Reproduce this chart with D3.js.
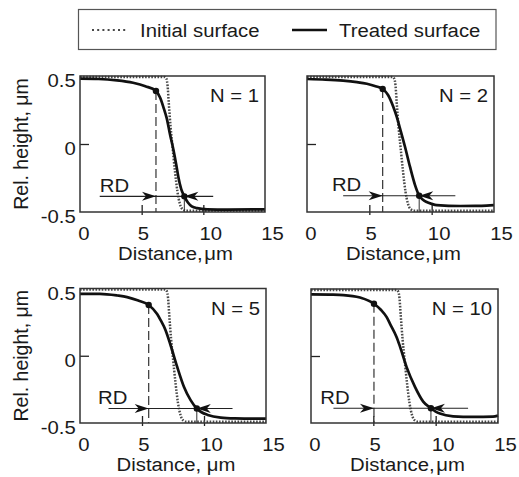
<!DOCTYPE html>
<html><head><meta charset="utf-8">
<script src="https://cdn.jsdelivr.net/npm/d3@7"></script>
<style>
body{margin:0;background:#fff}
text{font-family:"Liberation Sans",Arial,Helvetica,sans-serif;fill:#1a1a1a}
</style>
</head><body>
<svg id="c" width="519" height="477"></svg>
<script>
// ---------- data ----------
const xTicks = [0, 5, 10, 15];
const yTicks = [-0.5, 0, 0.5];
const yTickLabels = ["-0.5", "0", "0.5"];
const panelLabels = ["N = 1", "N = 2", "N = 5", "N = 10"];
const xTitles = ["Distance,\u200aμm", "Distance,\u200aμm", "Distance, μm", "Distance,\u200aμm"];
const yTitle = "Rel. height, μm";
const legendLabels = ["Initial surface", "Treated surface"];

// initial surface profile (same in every panel)
const initialProfile = [[0,0.492],[6.85,0.492],[7.0,0.48],[7.1,0.43],[7.2,0.3],[7.35,0.12],[7.5,-0.02],[7.7,-0.2],[7.9,-0.35],[8.1,-0.44],[8.35,-0.482],[8.6,-0.49],[15,-0.49]];

// treated surface profiles
const treatedN1 = [[0,0.48],[1.5,0.478],[3,0.468],[4.3,0.45],[5.3,0.425],[6.16,0.39],[6.5,0.34],[6.8,0.26],[7.03,0.19],[7.3,0.07],[7.57,-0.04],[7.8,-0.15],[7.97,-0.24],[8.2,-0.33],[8.46,-0.385],[8.75,-0.43],[9.06,-0.458],[9.5,-0.472],[10.3,-0.48],[12,-0.482],[15,-0.48]];
const treatedN2 = [[0,0.478],[1.5,0.474],[2.9,0.466],[4.0,0.455],[4.8,0.443],[5.5,0.425],[6.07,0.404],[6.5,0.36],[6.92,0.274],[7.2,0.2],[7.46,0.115],[7.86,-0.02],[8.26,-0.167],[8.66,-0.3],[9.0,-0.38],[9.3,-0.41],[9.6,-0.427],[10.0,-0.44],[10.4,-0.449],[12.3,-0.456],[14,-0.455],[15,-0.45]];
const treatedN5 = [[0,0.46],[1.6,0.46],[3,0.448],[3.8,0.436],[4.7,0.41],[5.54,0.377],[6.22,0.31],[6.5,0.265],[6.9,0.19],[7.3,0.08],[7.84,-0.083],[8.38,-0.23],[8.92,-0.33],[9.42,-0.392],[9.8,-0.42],[10.3,-0.44],[11.35,-0.46],[12.5,-0.466],[14,-0.468],[15,-0.468]];
const treatedN10 = [[0,0.46],[1.5,0.458],[2.6,0.455],[3.93,0.436],[5.05,0.39],[5.6,0.345],[6.07,0.29],[6.34,0.24],[6.87,0.14],[7.14,0.07],[7.67,-0.083],[8.34,-0.23],[9.0,-0.34],[9.62,-0.39],[10.0,-0.415],[10.34,-0.43],[11.4,-0.45],[13,-0.455],[14.6,-0.453],[15,-0.445]];
const treatedSeries = [treatedN1, treatedN2, treatedN5, treatedN10];

// RD annotation (x positions, µm)
const rdStartX = [6.16, 6.07, 5.54, 5.05];   // upper marker / dashed line
const rdEndX   = [8.46, 9.0, 9.42, 9.62];    // lower marker
const rdLineFrom = [1.6, 2.9, 2.3, 1.8];
const rdLineTo   = [10.8, 11.9, 12.3, 12.6];
const rdTextX    = [1.6, 2.0, 1.45, 0.75];

// ---------- layout ----------
const SX = 1.08, FS = 18.8;
const boxes = [
  {x0:80,  x1:265, y0:76,    y1:212},
  {x0:307, x1:494, y0:76,    y1:212},
  {x0:80,  x1:266, y0:288.5, y1:423},
  {x0:311, x1:498, y0:289,   y1:423}
];

const svg = d3.select("#c");

function interp(data, xv){
  for(let i=0;i<data.length-1;i++){
    const a=data[i], b=data[i+1];
    if(xv>=a[0] && xv<=b[0]){ const t=(xv-a[0])/(b[0]-a[0]); return a[1]+t*(b[1]-a[1]); }
  }
  return data[data.length-1][1];
}
function txt(g, x, y, s, anchor, size){
  return g.append("text")
    .attr("transform", `translate(${x},${y}) scale(${SX},1)`)
    .attr("text-anchor", anchor || "start")
    .style("font-size", (size||FS)+"px")
    .text(s);
}
function arrowHead(g, tipX, tipY, dir){ // dir=+1 points right, -1 points left
  const L=14, W=4.5, N=10;
  const p = `M${tipX},${tipY} L${tipX-dir*L},${tipY-W} L${tipX-dir*N},${tipY} L${tipX-dir*L},${tipY+W} Z`;
  g.append("path").attr("d", p).attr("fill", "#111");
}

boxes.forEach((b, i) => {
  const g = svg.append("g");
  const x = d3.scaleLinear().domain([0,15]).range([b.x0, b.x1]);
  const y = d3.scaleLinear().domain([-0.5,0.5]).range([b.y1, b.y0]);

  // x axis
  const xa = g.append("g").attr("transform", `translate(0,${b.y1})`)
    .call(d3.axisBottom(x).tickValues(xTicks).tickFormat(d => String(d)));
  xa.select(".domain").remove();
  xa.selectAll(".tick line").attr("y1", -7).attr("y2", 3).attr("stroke", "#222").attr("stroke-width", 1.3)
    .attr("display", d => (d===0||d===15) ? "none" : null);
  xa.selectAll(".tick text").attr("y", 28).attr("dy", null).attr("x", d => d===0 ? -2 : -4)
    .attr("text-anchor", "start").attr("transform", `scale(${SX},1)`)
    .style("font-size", FS+"px").attr("fill", "#1a1a1a");
  xa.attr("font-size", null).attr("font-family", null);

  // y axis
  const ya = g.append("g").attr("transform", `translate(${b.x0},0)`)
    .call(d3.axisLeft(y).tickValues(yTicks).tickFormat((d,k) => yTickLabels[k]));
  ya.select(".domain").remove();
  ya.selectAll(".tick line").attr("x1", 0).attr("x2", d => d===0 ? 9 : 0)
    .attr("stroke", "#222").attr("stroke-width", 1.3);
  ya.selectAll(".tick text").attr("x", -4).attr("dy", null).attr("y", 10.5)
    .attr("text-anchor", "end").attr("transform", `scale(${SX},1)`)
    .style("font-size", FS+"px").attr("fill", "#1a1a1a")
    .attr("display", (i===0||i===2) ? null : "none");
  ya.attr("font-size", null).attr("font-family", null);

  // curves
  const line = d3.line().x(d => x(d[0])).y(d => y(d[1])).curve(d3.curveMonotoneX);
  g.append("path").datum(initialProfile).attr("d", line)
    .attr("fill", "none").attr("stroke", "#484848").attr("stroke-width", 2.5).attr("stroke-dasharray", "1.6,1.5");
  const tr = treatedSeries[i];
  g.append("path").datum(tr).attr("d", line)
    .attr("fill", "none").attr("stroke", "#111").attr("stroke-width", 2.7);

  // RD annotation
  const y1v = interp(tr, rdStartX[i]);
  const y2v = interp(tr, rdEndX[i]);
  g.append("line").attr("x1", x(rdStartX[i])).attr("x2", x(rdStartX[i]))
    .attr("y1", y(y1v)).attr("y2", y(-0.5))
    .attr("stroke", "#333").attr("stroke-width", 1.2).attr("stroke-dasharray", "9,4");
  g.append("line").attr("x1", x(rdEndX[i])).attr("x2", x(rdEndX[i]))
    .attr("y1", y(y2v)).attr("y2", y(-0.5))
    .attr("stroke", "#333").attr("stroke-width", 1);
  g.append("line").attr("x1", x(rdLineFrom[i])).attr("x2", x(rdLineTo[i]))
    .attr("y1", y(y2v)).attr("y2", y(y2v))
    .attr("stroke", "#222").attr("stroke-width", 1.1);
  arrowHead(g, x(rdStartX[i]), y(y2v), 1);
  arrowHead(g, x(rdEndX[i]), y(y2v), -1);
  g.append("circle").attr("cx", x(rdStartX[i])).attr("cy", y(y1v)).attr("r", 3.2).attr("fill", "#111");
  g.append("circle").attr("cx", x(rdEndX[i])).attr("cy", y(y2v)).attr("r", 3.2).attr("fill", "#111");
  txt(g, x(rdTextX[i]), y(y2v) - 4.5, "RD", "start");

  // frame
  g.append("rect").attr("x", b.x0).attr("y", b.y0).attr("width", b.x1-b.x0).attr("height", b.y1-b.y0)
    .attr("fill", "none").attr("stroke", "#333").attr("stroke-width", 1.5);

  // panel label
  txt(g, b.x1 - 6, b.y0 + 26, panelLabels[i], "end");

  // x title
  txt(g, (b.x0+b.x1)/2 + 3, b.y1 + 48, xTitles[i], "middle");

  // y title
  if(i===0 || i===2){
    g.append("text").attr("transform", `translate(28,${(b.y0+b.y1)/2}) rotate(-90)`)
      .attr("text-anchor", "middle").style("font-size", "19.5px").text(yTitle);
  }
});

// legend
const lg = svg.append("g");
lg.append("rect").attr("x", 78.5).attr("y", 9.5).attr("width", 417.5).attr("height", 40)
  .attr("fill", "none").attr("stroke", "#555").attr("stroke-width", 1.2);
lg.append("line").attr("x1", 92).attr("x2", 128).attr("y1", 30).attr("y2", 30)
  .attr("stroke", "#484848").attr("stroke-width", 2).attr("stroke-dasharray", "2,3.2");
txt(lg, 140, 37, legendLabels[0], "start");
lg.append("line").attr("x1", 292).attr("x2", 327).attr("y1", 30).attr("y2", 30)
  .attr("stroke", "#111").attr("stroke-width", 2.3);
txt(lg, 339, 37, legendLabels[1], "start");
</script>
</body></html>
